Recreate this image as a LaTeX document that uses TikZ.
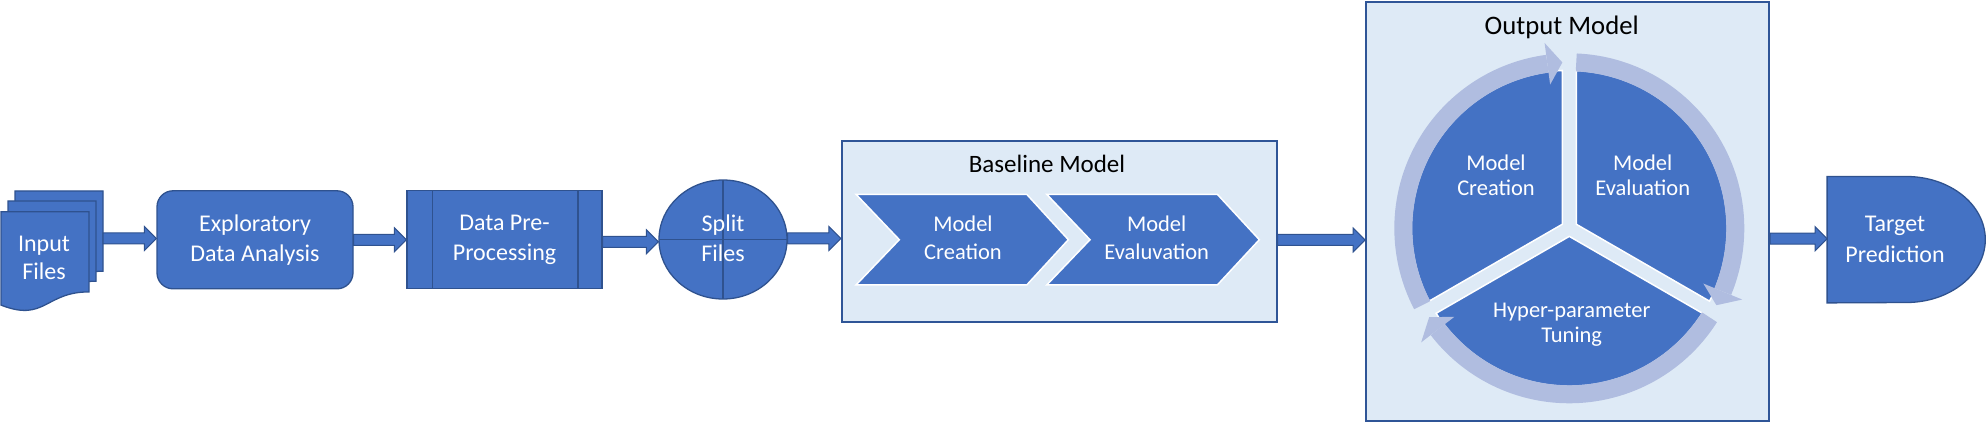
\documentclass[tikz,border=0pt]{standalone}
\usepackage{fontspec}
\setmainfont{Carlito}
\usetikzlibrary{shapes.geometric,calc}
\definecolor{blu}{RGB}{68,114,196}
\definecolor{bord}{RGB}{47,82,143}
\definecolor{boxb}{RGB}{47,85,151}
\definecolor{lbg}{RGB}{222,234,246}
\definecolor{ringc}{RGB}{176,189,224}
\newcommand\tstrut{\rule[-2.5pt]{0pt}{20.5pt}}
\newcommand\docsheet[2]{\filldraw[fill=blu,draw=bord,line width=1.3pt] (#1,-#2) -- ({#1+88},-#2) -- ({#1+88},{-#2-80.2}) .. controls ({#1+44},{-#2-80.2}) and ({#1+44},{-#2-110.7}) .. (#1,{-#2-93.4}) -- cycle;}
\begin{document}
\begin{tikzpicture}[x=1pt,y=1pt,
  txt/.style={text=white, align=center, font=\fontsize{24pt}{30pt}\selectfont, inner sep=0pt,
    execute at begin node=\tstrut, execute at end node=\tstrut},
  blk/.style={txt, fill=blu, draw=bord, line width=1.3pt},
  ttl/.style={txt, text=black},
  cyc/.style={txt, font=\fontsize{22.5pt}{25pt}\selectfont},
  chevtxt/.style={txt, font=\fontsize{22.5pt}{27.3pt}\selectfont},
  chev/.style={fill=blu, draw=white, line width=1.5pt},
  container/.style={draw=boxb, fill=lbg, line width=1.8pt, inner sep=0pt},
  barrow/.style={fill=blu, draw=bord, line width=1pt,
    to path={let \p1=(\tikztostart), \p2=(\tikztotarget) in
      (\x1,\y1+5.5pt) -- (\x2-12pt,\y1+5.5pt) -- (\x2-12pt,\y1+12pt) -- (\x2,\y1)
      -- (\x2-12pt,\y1-12pt) -- (\x2-12pt,\y1-5.5pt) -- (\x1,\y1-5.5pt) -- cycle}}
]
\useasboundingbox (0,0) rectangle (1986,-446);

% Input files (multi-document)
\docsheet{15}{191}
\docsheet{8}{201}
\docsheet{1}{211.7}
\node[inner sep=0pt, minimum width=102pt, minimum height=100pt] (inp) at (52,-238.5) {};
\node[txt, font=\fontsize{24pt}{28.5pt}\selectfont] (inptxt) at (44,-259.2) {Input\\Files};

% Exploratory Data Analysis
\node[blk, rounded corners=16pt, minimum width=196pt, minimum height=98pt] (eda) at (255,-239.8) {Exploratory\\Data Analysis};

% Data Pre-Processing
\node[blk, minimum width=195pt, minimum height=98pt,
  path picture={\draw[bord,line width=1.3pt]
    ([xshift=25.5pt]path picture bounding box.north west) -- ([xshift=25.5pt]path picture bounding box.south west)
    ([xshift=-24pt]path picture bounding box.north east) -- ([xshift=-24pt]path picture bounding box.south east);}]
  (dpp) at (504.5,-239.8) {Data Pre-\\Processing};

% Split Files
\node[blk, ellipse, minimum width=128pt, minimum height=119pt,
  path picture={\draw[bord,line width=1.3pt]
    (path picture bounding box.north) -- (path picture bounding box.south)
    (path picture bounding box.west) -- (path picture bounding box.east);}]
  (split) at (723,-239.5) {Split\\Files};

% Baseline model
\node[container, minimum width=435pt, minimum height=181pt] (base) at (1059.2,-231.5) {};
\node[ttl, font=\fontsize{25pt}{30pt}\selectfont] (basettl) at (1047,-165) {Baseline Model};
\filldraw[chev] (856,-194.3) -- (1026.7,-194.3) -- (1068.3,-239.7) -- (1026.7,-285) -- (856,-285) -- (899.3,-239.7) -- cycle;
\filldraw[chev] (1046.7,-194.3) -- (1217.3,-194.3) -- (1259.3,-239.7) -- (1217.3,-285) -- (1046.7,-285) -- (1090,-239.7) -- cycle;
\node[chevtxt] (c1) at (963,-239) {Model\\Creation};
\node[chevtxt] (c2) at (1156.7,-239) {Model\\Evaluvation};

% Output model
\node[container, minimum width=403.3pt, minimum height=419pt] (out) at (1567.65,-211.2) {};
\node[ttl, font=\fontsize{26.7pt}{32pt}\selectfont] (outttl) at (1561.7,-27.6) {Output Model};
\begin{scope}[shift={(1569.3,-228.3)}]
  \filldraw[chev] (30:8.08) -- (87.46:158) arc[start angle=87.46, end angle=-27.46, radius=158] -- cycle;
  \filldraw[chev] (-90:8.08) -- (-32.54:158) arc[start angle=-32.54, end angle=-147.46, radius=158] -- cycle;
  \filldraw[chev] (150:8.08) -- (207.46:158) arc[start angle=207.46, end angle=92.54, radius=158] -- cycle;
  \draw[ringc, line width=18pt] (87.6:166) arc[start angle=87.6, end angle=-22.4, radius=166];
  \fill[ringc] (-22.4:145) -- (-27.6:166) -- (-22.4:187) -- cycle;
  \draw[ringc, line width=18pt] (-32.4:166) arc[start angle=-32.4, end angle=-142.4, radius=166];
  \fill[ringc] (-142.4:145) -- (-147.6:166) -- (-142.4:187) -- cycle;
  \draw[ringc, line width=18pt] (207.6:166) arc[start angle=207.6, end angle=97.6, radius=166];
  \fill[ringc] (97.6:145) -- (92.4:166) -- (97.6:187) -- cycle;
\end{scope}
\node[cyc] (mc) at (1496,-176.7) {Model\\Creation};
\node[cyc] (me) at (1642.7,-176.7) {Model\\Evaluation};
\node[cyc] (hp) at (1571.7,-324.5) {Hyper-parameter\\Tuning};

% Target prediction
\node[inner sep=0pt, minimum width=158pt, minimum height=126pt] (tgt) at (1906.3,-239.7) {};
\filldraw[fill=blu, draw=bord, line width=1.3pt] (tgt.north west) -- (tgt.north)
  arc[start angle=90, end angle=-90, x radius=79pt, y radius=63pt] -- (tgt.south west) -- cycle;
\node[txt, font=\fontsize{24pt}{30.5pt}\selectfont] (tgttxt) at (1895,-240.8) {Target\\Prediction};

% Block arrows
\draw[barrow] (inp.east) to (eda.west);
\draw[barrow] (eda.east) to (dpp.west);
\draw[barrow] ([yshift=-2pt]dpp.east) to (split.west);
\draw[barrow] ([yshift=1pt]split.east) to (base.west);
\draw[barrow] ([yshift=-8.5pt]base.east) to (out.west);
\draw[barrow] ([yshift=-27.5pt]out.east) to (tgt.west);
\end{tikzpicture}
\end{document}
